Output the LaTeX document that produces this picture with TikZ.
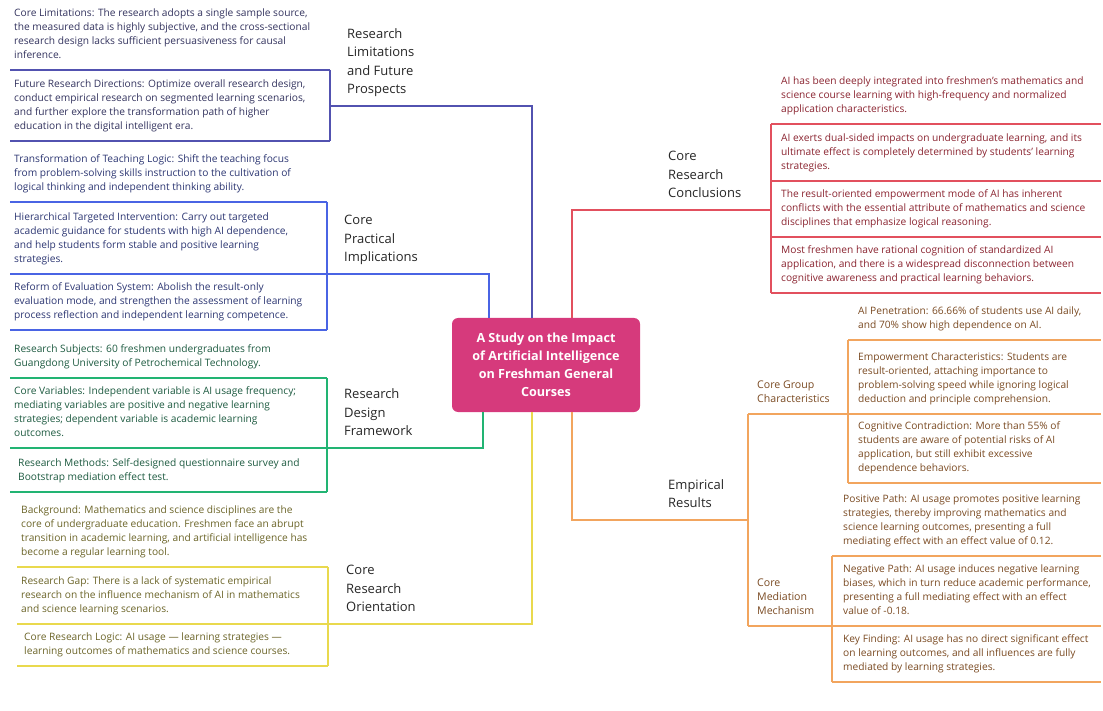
\documentclass[tikz,border=0pt]{standalone}
\usepackage{fontspec}
\setmainfont{Open Sans}
\usepackage{tikz}
\usetikzlibrary{positioning, calc}

\definecolor{rootc}{HTML}{D63A7C}
\definecolor{labc}{HTML}{262626}
\definecolor{limc}{HTML}{5252B0}
\definecolor{limt}{HTML}{33335E}
\definecolor{pracc}{HTML}{4A64E4}
\definecolor{pract}{HTML}{2C3672}
\definecolor{desc}{HTML}{22B473}
\definecolor{dest}{HTML}{1D5A40}
\definecolor{oric}{HTML}{E9D94E}
\definecolor{orit}{HTML}{6B6428}
\definecolor{conc}{HTML}{E2505E}
\definecolor{cont}{HTML}{8A2430}
\definecolor{empc}{HTML}{F2A55E}
\definecolor{empt}{HTML}{7A4A22}

\tikzset{
  leaf/.style={anchor=south west, inner xsep=0pt, inner ysep=11.5pt, text depth=0pt, align=left, font=\fontsize{10.2}{14}\selectfont},
  branch/.style={anchor=south west, inner xsep=0pt, inner ysep=12pt, text depth=0pt, align=left, font=\fontsize{13}{18.5}\selectfont, text=labc},
  sublabel/.style={branch, inner ysep=11pt, font=\fontsize{10.6}{14}\selectfont},
  trunk/.style={line width=1.3pt},
  heavy/.style={line width=2.6pt},
  rootbox/.style={fill=rootc, text=white, rounded corners=6pt, minimum width=188pt, minimum height=94pt, align=center, font=\fontsize{12.6}{18}\selectfont\bfseries}
}

\begin{document}
\begin{tikzpicture}[x=1pt, y=-1pt]
\useasboundingbox (0,0) rectangle (1103,711);

\node[rootbox] (root) at (546,365) {A Study on the Impact\\of Artificial Intelligence\\on Freshman General\\Courses};

\coordinate (left) at (10,0);
\coordinate (edge) at (1101,0);

% research limitations
\coordinate (limT) at (330,106);
\coordinate (limR) at (532,106);
\node[branch] (lim) at (347,106) {Research\\Limitations\\and Future\\Prospects};
\node[leaf, text=limt] (lim1) at (14,70) {Core Limitations: The research adopts a single sample source,\\the measured data is highly subjective, and the cross-sectional\\research design lacks sufficient persuasiveness for causal\\inference.};
\node[leaf, text=limt] (lim2) at (14,141) {Future Research Directions: Optimize overall research design,\\conduct empirical research on segmented learning scenarios,\\and further explore the transformation path of higher\\education in the digital intelligent era.};
\foreach \n in {lim1,lim2}
  \draw[limc, trunk] (\n.south west -| left) -- (\n.south west -| limT);
\draw[limc, trunk] (lim1.south west -| limT) -- (lim2.south west -| limT);
\draw[limc, trunk] (root.north -| limR) |- (limT);
\draw[limc, heavy] ([xshift=-7pt]lim.south west) -- ([xshift=83pt]lim.south west);

% practical implications
\coordinate (pracT) at (327,274);
\coordinate (pracR) at (489,274);
\node[branch] (prac) at (344,274) {Core\\Practical\\Implications};
\node[leaf, text=pract] (prac1) at (14,202) {Transformation of Teaching Logic: Shift the teaching focus\\from problem-solving skills instruction to the cultivation of\\logical thinking and independent thinking ability.};
\node[leaf, text=pract] (prac2) at (14,274) {Hierarchical Targeted Intervention: Carry out targeted\\academic guidance for students with high AI dependence,\\and help students form stable and positive learning\\strategies.};
\node[leaf, text=pract] (prac3) at (14,330) {Reform of Evaluation System: Abolish the result-only\\evaluation mode, and strengthen the assessment of learning\\process reflection and independent learning competence.};
\foreach \n in {prac1,prac2,prac3}
  \draw[pracc, trunk] (\n.south west -| left) -- (\n.south west -| pracT);
\draw[pracc, trunk] (prac1.south west -| pracT) -- (prac3.south west -| pracT);
\draw[pracc, trunk] (root.north -| pracR) |- (pracT);
\draw[pracc, heavy] ([xshift=-9pt]prac.south west) -- ([xshift=86pt]prac.south west);

% design framework
\coordinate (desT) at (327,448);
\coordinate (desR) at (483,448);
\node[branch] (des) at (344,448) {Research\\Design\\Framework};
\node[leaf, text=dest] (des1) at (14,378) {Research Subjects: 60 freshmen undergraduates from\\Guangdong University of Petrochemical Technology.};
\node[leaf, text=dest] (des2) at (14,448) {Core Variables: Independent variable is AI usage frequency;\\mediating variables are positive and negative learning\\strategies; dependent variable is academic learning\\outcomes.};
\node[leaf, text=dest] (des3) at (18,492) {Research Methods: Self-designed questionnaire survey and\\Bootstrap mediation effect test.};
\foreach \n in {des1,des2,des3}
  \draw[desc, trunk] (\n.south west -| left) -- (\n.south west -| desT);
\draw[desc, trunk] (des1.south west -| desT) -- (des3.south west -| desT);
\draw[desc, trunk] (root.south -| desR) |- (desT);
\draw[desc, heavy] ([xshift=-10pt]des.south west) -- ([xshift=86pt]des.south west);

% research orientation
\coordinate (oriT) at (328,624);
\coordinate (oriR) at (532,624);
\coordinate (oleft) at (17,0);
\node[branch] (ori) at (346,624) {Core\\Research\\Orientation};
\node[leaf, text=orit] (ori1) at (21,567) {Background: Mathematics and science disciplines are the\\core of undergraduate education. Freshmen face an abrupt\\transition in academic learning, and artificial intelligence has\\become a regular learning tool.};
\node[leaf, text=orit] (ori2) at (21,624) {Research Gap: There is a lack of systematic empirical\\research on the influence mechanism of AI in mathematics\\and science learning scenarios.};
\node[leaf, text=orit] (ori3) at (24,666) {Core Research Logic: AI usage — learning strategies —\\learning outcomes of mathematics and science courses.};
\foreach \n in {ori1,ori2,ori3}
  \draw[oric, trunk] (\n.south west -| oleft) -- (\n.south west -| oriT);
\draw[oric, trunk] (ori1.south west -| oriT) -- (ori3.south west -| oriT);
\draw[oric, trunk] (root.south -| oriR) |- (oriT);
\draw[oric, heavy] ([xshift=-16pt]ori.south west) -- ([xshift=84pt]ori.south west);

% research conclusions
\coordinate (conT) at (771,210);
\coordinate (conR) at (572,210);
\node[branch] (con) at (668,210) {Core\\Research\\Conclusions};
\node[leaf, text=cont] (con1) at (781,124) {AI has been deeply integrated into freshmen's mathematics and\\science course learning with high-frequency and normalized\\application characteristics.};
\node[leaf, text=cont] (con2) at (781,181) {AI exerts dual-sided impacts on undergraduate learning, and its\\ultimate effect is completely determined by students' learning\\strategies.};
\node[leaf, text=cont] (con3) at (781,237) {The result-oriented empowerment mode of AI has inherent\\conflicts with the essential attribute of mathematics and science\\disciplines that emphasize logical reasoning.};
\node[leaf, text=cont] (con4) at (781,293) {Most freshmen have rational cognition of standardized AI\\application, and there is a widespread disconnection between\\cognitive awareness and practical learning behaviors.};
\foreach \n in {con1,con2,con3,con4}
  \draw[conc, trunk] (\n.south west -| conT) -- (\n.south west -| edge);
\draw[conc, trunk] (con1.south west -| conT) -- (con4.south west -| conT);
\draw[conc, trunk] (root.north -| conR) |- (conT);
\draw[conc, heavy] ([xshift=-10pt]con.south west) -- ([xshift=87pt]con.south west);

% empirical results
\coordinate (empT) at (748,520);
\coordinate (empR) at (572,520);
\coordinate (cgT) at (848,414);
\coordinate (cmT) at (832,626);
\node[branch] (emp) at (668,520) {Empirical\\Results};
\node[sublabel, text=empt] (cg) at (757,414) {Core Group\\Characteristics};
\node[sublabel, text=empt] (cm) at (757,626) {Core\\Mediation\\Mechanism};
\node[leaf, text=empt] (cg1) at (858,340) {AI Penetration: 66.66\% of students use AI daily,\\and 70\% show high dependence on AI.};
\node[leaf, text=empt] (cg2) at (858,414) {Empowerment Characteristics: Students are\\result-oriented, attaching importance to\\problem-solving speed while ignoring logical\\deduction and principle comprehension.};
\node[leaf, text=empt] (cg3) at (858,483) {Cognitive Contradiction: More than 55\% of\\students are aware of potential risks of AI\\application, but still exhibit excessive\\dependence behaviors.};
\node[leaf, text=empt] (cm1) at (843,556) {Positive Path: AI usage promotes positive learning\\strategies, thereby improving mathematics and\\science learning outcomes, presenting a full\\mediating effect with an effect value of 0.12.};
\node[leaf, text=empt] (cm2) at (843,626) {Negative Path: AI usage induces negative learning\\biases, which in turn reduce academic performance,\\presenting a full mediating effect with an effect\\value of -0.18.};
\node[leaf, text=empt] (cm3) at (843,682) {Key Finding: AI usage has no direct significant effect\\on learning outcomes, and all influences are fully\\mediated by learning strategies.};
\draw[empc, trunk] (cg.south west -| empT) -- (cm.south west -| empT);
\draw[empc, trunk] (cg.south west -| empT) -- (cg.south west -| edge);
\draw[empc, trunk] (cm.south west -| empT) -- (cm.south west -| edge);
\foreach \n in {cg1,cg3}
  \draw[empc, trunk] (\n.south west -| cgT) -- (\n.south west -| edge);
\foreach \n in {cm1,cm3}
  \draw[empc, trunk] (\n.south west -| cmT) -- (\n.south west -| edge);
\draw[empc, trunk] (cg1.south west -| cgT) -- (cg3.south west -| cgT);
\draw[empc, trunk] (cm1.south west -| cmT) -- (cm3.south west -| cmT);
\draw[empc, trunk] (root.south -| empR) |- (empT);
\draw[empc, heavy] ([xshift=-10pt]emp.south west) -- ([xshift=79pt]emp.south west);
\end{tikzpicture}
\end{document}
